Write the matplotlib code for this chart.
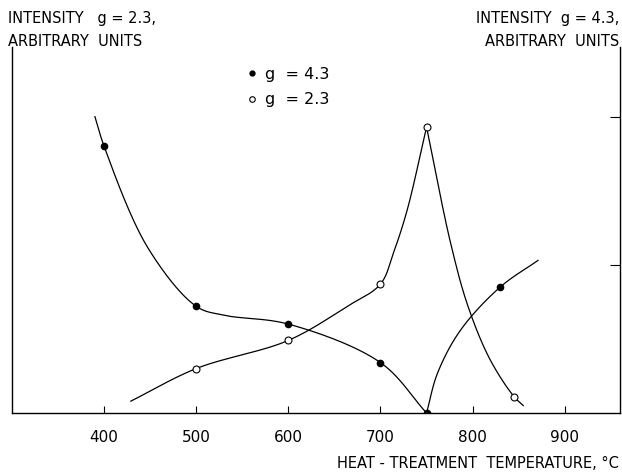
import numpy as np
import matplotlib
matplotlib.use('Agg')
import matplotlib.pyplot as plt
from matplotlib.lines import Line2D

# measured points, g = 4.3 (filled) and g = 2.3 (open)
temp_43 = [400, 500, 600, 700, 750, 830]
int_43 = [1.80, 0.72, 0.60, 0.34, 0.0, 0.85]
temp_23 = [500, 600, 700, 750, 845]
int_23 = [0.30, 0.49, 0.87, 1.93, 0.11]

# hand-drawn guide curves (two branches each)
c43a_x = [390, 400, 447, 500, 530, 600, 700, 750]
c43a_y = [2.00, 1.80, 1.12, 0.72, 0.66, 0.60, 0.34, 0.0]
c43b_x = [750, 762, 787, 830, 871]
c43b_y = [0.0, 0.27, 0.56, 0.85, 1.03]
c23a_x = [429, 500, 600, 664, 700, 714, 729, 750]
c23a_y = [0.08, 0.30, 0.49, 0.72, 0.87, 1.08, 1.37, 1.93]
c23b_x = [750, 776, 795, 819, 845, 855]
c23b_y = [1.93, 1.15, 0.72, 0.36, 0.11, 0.05]

xticks = [400, 500, 600, 700, 800, 900]


def smooth(xs, ys, n=30):
    # centripetal Catmull-Rom through the traced knots (in pixel-ish units)
    sc = np.array([0.92, 148.0])
    p = np.column_stack([xs, ys]).astype(float) * sc
    p = np.vstack([2 * p[0] - p[1], p, 2 * p[-1] - p[-2]])
    out = []
    for i in range(1, len(p) - 2):
        p0, p1, p2, p3 = p[i - 1], p[i], p[i + 1], p[i + 2]
        t0 = 0.0
        t1 = t0 + np.linalg.norm(p1 - p0) ** 0.5
        t2 = t1 + np.linalg.norm(p2 - p1) ** 0.5
        t3 = t2 + np.linalg.norm(p3 - p2) ** 0.5
        t = np.linspace(t1, t2, n, endpoint=False)[:, None]
        a1 = (t1 - t) / (t1 - t0) * p0 + (t - t0) / (t1 - t0) * p1
        a2 = (t2 - t) / (t2 - t1) * p1 + (t - t1) / (t2 - t1) * p2
        a3 = (t3 - t) / (t3 - t2) * p2 + (t - t2) / (t3 - t2) * p3
        b1 = (t2 - t) / (t2 - t0) * a1 + (t - t0) / (t2 - t0) * a2
        b2 = (t3 - t) / (t3 - t1) * a2 + (t - t1) / (t3 - t1) * a3
        out.append((t2 - t) / (t2 - t1) * b1 + (t - t1) / (t2 - t1) * b2)
    out.append(p[-2][None, :])
    out = np.vstack(out) / sc
    return out[:, 0], out[:, 1]


fig = plt.figure(figsize=(6.22, 4.73), dpi=100)
ax = fig.add_axes([12 / 622, 60 / 473, 608 / 622, 366 / 473])

kw = {'color': 'black', 'lw': 0.9}
for cx, cy in [(c43a_x, c43a_y), (c43b_x, c43b_y),
               (c23a_x, c23a_y), (c23b_x, c23b_y)]:
    sx, sy = smooth(cx, cy)
    ax.plot(sx, sy, **kw)

ax.plot(temp_43, int_43, 'o', ms=4.5, color='black', zorder=3)
ax.plot(temp_23, int_23, 'o', ms=5, mfc='white', mec='black', mew=0.8,
        zorder=3)

ax.set_xlim(300, 960)
ax.set_ylim(0, 2.47)
ax.spines['top'].set_visible(False)
for s in ax.spines.values():
    s.set_linewidth(1.0)

ax.set_xticks(xticks)
ax.set_xticklabels([str(v) for v in xticks])
ax.tick_params(axis='x', direction='in', length=5, pad=12, labelsize=11)
ax.set_yticks([1, 2])
ax.tick_params(axis='y', direction='in', length=7, left=False, right=True,
               labelleft=False, labelright=False)

handles = [Line2D([], [], ls='none', marker='o', ms=3.5, color='black'),
           Line2D([], [], ls='none', marker='o', ms=4, mfc='white',
                  mec='black', mew=0.8)]
ax.legend(handles, ['g  = 4.3', 'g  = 2.3'], frameon=False, fontsize=11.5,
          loc='upper left', bbox_to_anchor=(0.364, 0.985),
          handlelength=0.6, handletextpad=0.5, labelspacing=0.65)

tk = {'fontsize': 10.5, 'color': 'black'}
fig.text(8 / 622, 1 - 18 / 473, 'INTENSITY   g = 2.3,', ha='left', va='center', **tk)
fig.text(8 / 622, 1 - 42 / 473, 'ARBITRARY  UNITS', ha='left', va='center', **tk)
fig.text(619 / 622, 1 - 18 / 473, 'INTENSITY  g = 4.3,', ha='right', va='center', **tk)
fig.text(619 / 622, 1 - 42 / 473, 'ARBITRARY  UNITS', ha='right', va='center', **tk)
fig.text(619 / 622, 1 - 463 / 473, 'HEAT - TREATMENT  TEMPERATURE, °C',
         ha='right', va='center', **tk)

plt.savefig('out.png', dpi=100)
